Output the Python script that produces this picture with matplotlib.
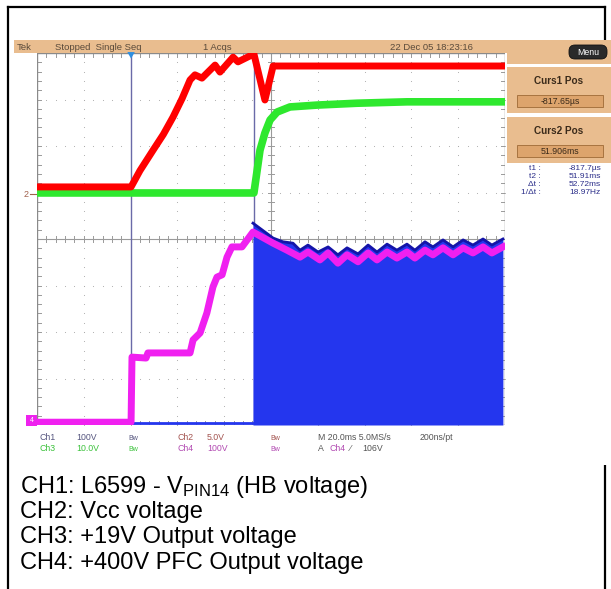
import matplotlib
matplotlib.use("Agg")
import matplotlib.pyplot as plt
from matplotlib.patches import Rectangle, FancyBboxPatch, Polygon
import numpy as np

plt.rcParams['font.family'] = ['Liberation Sans', 'DejaVu Sans']
plt.rcParams['mathtext.fontset'] = 'custom'
plt.rcParams['mathtext.rm'] = 'Liberation Sans'
plt.rcParams['mathtext.it'] = 'Liberation Sans'

# ---------------- data (time in ms from left edge, level in divisions) ----------------
red_t = [0, 40.2, 44.0, 49.6, 54.0, 58.1, 62.0, 65.4, 67.5, 70.5, 76.1, 78.2, 83.8, 85.9,
         91.9, 92.7, 97.4, 100.9, 200]
red_y = [5.12, 5.12, 5.47, 5.91, 6.25, 6.62, 7.02, 7.42, 7.53, 7.46, 7.74, 7.59, 7.91, 7.81,
         7.96, 7.98, 6.99, 7.72, 7.72]

green_t = [0, 92.7, 95.3, 97.4, 99.6, 102.6, 108.1, 119.7, 136.8, 158.1, 200]
green_y = [4.99, 4.99, 5.91, 6.28, 6.56, 6.73, 6.84, 6.88, 6.92, 6.95, 6.95]

pink_t = [0, 40.2, 40.6, 46.6, 47.4, 65.4, 66.7, 69.7, 72.6, 75.2, 76.9, 79.1, 81.2, 83.3,
          87.6, 92.3, 100.9, 106.8, 112.4, 115.8, 120.9, 124.4, 128.6, 132.5, 137.2, 141.5,
          145.3, 149.6, 153.8, 158.1, 161.5, 165.8, 169.2, 173.5, 177.8, 182.1, 186.3, 190.6,
          194.4, 199.1]
pink_y = [0.06, 0.06, 1.46, 1.44, 1.55, 1.55, 1.83, 1.98, 2.41, 2.97, 3.18, 3.23, 3.61, 3.83,
          3.83, 4.15, 3.91, 3.76, 3.61, 3.72, 3.55, 3.70, 3.48, 3.66, 3.51, 3.70,
          3.55, 3.72, 3.59, 3.72, 3.59, 3.76, 3.66, 3.81, 3.66, 3.81, 3.70, 3.83,
          3.70, 3.83]

blue_base_t = [40.2, 92.3]
blue_base_y = [0.04, 0.04]
blue_t = [92.3, 100.9, 105.1, 109.4, 112.4, 115.8, 120.1, 124.4, 128.6, 132.5, 137.2, 141.5,
          145.3, 149.6, 153.8, 158.1, 161.5, 165.8, 169.2, 173.5, 177.8, 182.1, 186.3, 190.6,
          194.4, 199.1]
blue_y = [4.34, 4.02, 3.94, 3.91, 3.76, 3.87, 3.72, 3.83, 3.66, 3.81, 3.68, 3.87,
          3.72, 3.89, 3.76, 3.89, 3.76, 3.94, 3.83, 3.98, 3.83, 3.98, 3.87, 4.00,
          3.87, 4.00]

cursor_t = [40.2, 92.9]
trigger_t = 40.2

header_texts = ["Tek", "Stopped  Single Seq", "1 Acqs", "22 Dec 05 18:23:16"]
curs_titles = ["Curs1 Pos", "Curs2 Pos"]
curs_values = ["-817.65µs", "51.906ms"]
meas_labels = ["t1 :", "t2 :", "Δt :", "1/Δt :"]
meas_values = ["-817.7µs", "51.91ms", "52.72ms", "18.97Hz"]
captions = ["CH1: L6599 - V$_{\\rm PIN14}$ (HB voltage)", "CH2: Vcc voltage",
            "CH3: +19V Output voltage", "CH4: +400V PFC Output voltage"]

# ---------------- figure ----------------
W, H = 611, 589
fig = plt.figure(figsize=(W / 100, H / 100), dpi=100)
fig.patch.set_facecolor('white')

bg = fig.add_axes([0, 0, 1, 1])
bg.set_xlim(0, W)
bg.set_ylim(H, 0)
bg.axis('off')

# outer frame (under the pasted screenshot)
bg.plot([8, 8], [7, 589], color='black', lw=1.6, zorder=0.5)
bg.plot([8, 605], [7, 7], color='black', lw=1.6, zorder=0.5)
bg.plot([605, 605], [7, 589], color='black', lw=1.6, zorder=0.5)

# scope screenshot white background
bg.add_patch(Rectangle((14, 40), 597, 425, facecolor='white', edgecolor='none', zorder=1))
tan = '#E9BD8F'
bg.add_patch(Rectangle((14, 40), 597, 13, facecolor=tan, edgecolor='none', zorder=2))
bg.add_patch(Rectangle((507, 40), 104, 24, facecolor=tan, edgecolor='none', zorder=2))

hx = [17, 55, 203, 390]
for x, s in zip(hx, header_texts):
    bg.text(x, 50, s, fontsize=6.8, color='#5a4a3a', va='baseline', ha='left', zorder=3)

# Menu button
bg.add_patch(FancyBboxPatch((569, 45), 38, 14, boxstyle="round,pad=0,rounding_size=6",
                            facecolor='#2a2a2a', edgecolor='#111111', lw=0.6, zorder=3))
bg.text(588, 52.5, "Menu", fontsize=6.3, color='white', ha='center', va='center', zorder=4)

# cursor boxes
for i, (ttl, val) in enumerate(zip(curs_titles, curs_values)):
    y0 = 67 + i * 50
    bg.add_patch(Rectangle((507, y0), 104, 46, facecolor=tan, edgecolor='none', zorder=2))
    bg.text(559, y0 + 14, ttl, fontsize=7.2, fontweight='bold', color='#3a2a1a',
            ha='center', va='center', zorder=3)
    bg.add_patch(Rectangle((517, y0 + 28), 86, 12, facecolor='#DDA46C', edgecolor='#A87440',
                           lw=0.7, zorder=3))
    bg.text(560, y0 + 34, val, fontsize=6.3, color='#3a2a1a', ha='center', va='center', zorder=4)

for i, (lab, val) in enumerate(zip(meas_labels, meas_values)):
    y = 170 + i * 8
    bg.text(541, y, lab, fontsize=6, color='#2c2f8a', ha='right', va='baseline', zorder=3)
    bg.text(601, y, val, fontsize=6, color='#2c2f8a', ha='right', va='baseline', zorder=3)

# bottom channel settings
c1, c2, c3, c4 = '#55557f', '#a3534f', '#3cc23c', '#b24ab2'
row1 = [(40, "Ch1", c1), (76, "100V", c1), (178, "Ch2", c2), (207, "5.0V", c2),
        (318, "M 20.0ms 5.0MS/s", '#555555'), (420, "200ns/pt", '#555555')]
row2 = [(40, "Ch3", c3), (76, "10.0V", c3), (178, "Ch4", c4), (207, "100V", c4),
        (318, "A", '#555555'), (329, "Ch4", c4), (350, "⁄", '#555555'), (362, "106V", '#555555')]
for x, s, c in row1:
    bg.text(x, 440, s, fontsize=6.3, color=c, ha='left', va='baseline', zorder=3)
for x, s, c in row2:
    bg.text(x, 451, s, fontsize=6.3, color=c, ha='left', va='baseline', zorder=3)
for x, y, c in [(128, 440, c1), (270, 440, c2), (128, 451, c3), (270, 451, c4)]:
    bg.text(x, y, "Bw", fontsize=5, color=c, ha='left', va='baseline', zorder=3)

# channel ground markers
bg.text(24, 197, "2", fontsize=6.5, color='#a0604c', ha='left', va='baseline', zorder=3)
bg.plot([30, 37], [194, 194], color='#a0604c', lw=0.8, zorder=3)
bg.add_patch(Rectangle((26, 415), 11, 11, facecolor='#ee22ee', edgecolor='none', zorder=3))
bg.text(31.5, 420.5, "4", fontsize=5, color='white', ha='center', va='center', zorder=4)

# captions
for i, s in enumerate(captions):
    bg.text(20, 493 + i * 25.2, s, fontsize=17, color='black', ha='left', va='baseline', zorder=3)

# ---------------- scope graticule axes ----------------
x0, y0, x1, y1 = 37, 53, 505, 425
ax = fig.add_axes([x0 / W, 1 - y1 / H, (x1 - x0) / W, (y1 - y0) / H])
ax.set_xlim(0, 200)
ax.set_ylim(0, 8)
ax.axis('off')
ax.patch.set_alpha(0)
ax.set_zorder(5)

gc = '#9a9a9a'
# dotted grid
xs = np.arange(0, 200.01, 4)
ys = np.arange(0, 8.01, 0.2)
for gx in range(20, 200, 20):
    if gx != 100:
        ax.scatter(np.full_like(ys, gx), ys, s=0.6, color='#aaaaaa', linewidths=0, zorder=1)
for gy in range(1, 8):
    if gy != 4:
        ax.scatter(xs, np.full_like(xs, gy), s=0.6, color='#aaaaaa', linewidths=0, zorder=1)
# center crosshair with ticks
ax.plot([0, 200], [4, 4], color=gc, lw=0.8, zorder=1)
ax.plot([100, 100], [0, 8], color=gc, lw=0.8, zorder=1)
for tx in xs:
    ax.plot([tx, tx], [3.93, 4.07], color=gc, lw=0.7, zorder=1)
    ax.plot([tx, tx], [8, 7.91], color=gc, lw=0.7, zorder=1)
    ax.plot([tx, tx], [0, 0.09], color=gc, lw=0.7, zorder=1)
for ty in ys:
    ax.plot([98.8, 101.2], [ty, ty], color=gc, lw=0.7, zorder=1)
    ax.plot([0, 1.6], [ty, ty], color=gc, lw=0.7, zorder=1)
    ax.plot([198.4, 200], [ty, ty], color=gc, lw=0.7, zorder=1)
ax.add_patch(Rectangle((0, 0), 200, 8, facecolor='none', edgecolor='#8a8a8a', lw=1.0, zorder=1))

# cursors
for ct in cursor_t:
    ax.plot([ct, ct], [0, 8], color='#6a6aa8', lw=1.0, zorder=2)

# CH blue (filled switching waveform)
ax.fill_between(blue_t, 0, blue_y, color='#2436EE', lw=0, zorder=3)
ax.plot(blue_t, blue_y, color='#1414A8', lw=2.0, zorder=4, solid_joinstyle='round')
ax.plot(blue_base_t, blue_base_y, color='#2436EE', lw=2.0, zorder=3)

# pink
ax.plot(pink_t, pink_y, color='#F020F0', lw=5.0, zorder=5, solid_joinstyle='round')
# green
ax.plot(green_t, green_y, color='#2EE82E', lw=5.5, zorder=6, solid_joinstyle='round')
# red
ax.plot(red_t, red_y, color='#FF0000', lw=5.0, zorder=7, solid_joinstyle='round')

# trigger marker
ax.add_patch(Polygon([[trigger_t - 1.6, 8.02], [trigger_t + 1.6, 8.02], [trigger_t, 7.88]],
                     closed=True, facecolor='#2f8fe0', edgecolor='none', zorder=8, clip_on=False))

fig.savefig("out.png", dpi=100)
